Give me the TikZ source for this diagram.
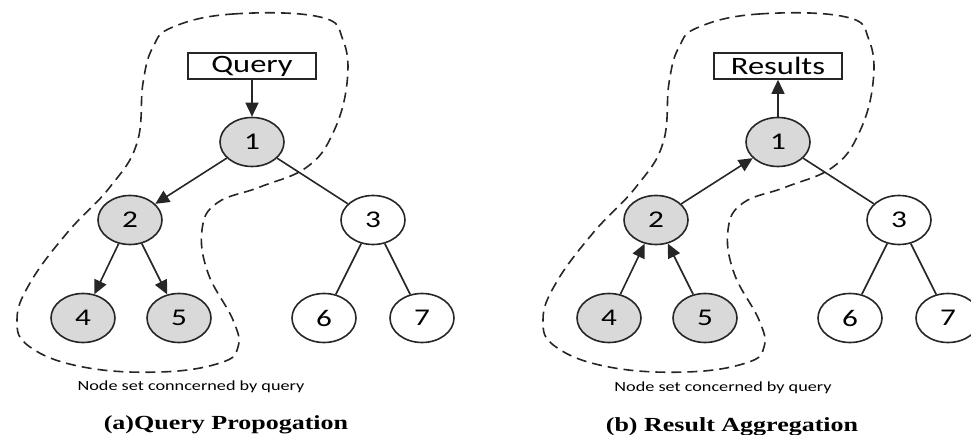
\documentclass[tikz,border=0pt]{standalone}
\usepackage{fontspec}
\setmainfont{Carlito}
\newfontfamily\capfont{Liberation Serif}
\usepackage{graphicx}
\usepackage{xcolor}
\definecolor{TreeGray}{HTML}{D9D9D9}
\definecolor{TreeLine}{HTML}{262626}
\usetikzlibrary{arrows.meta,shapes.geometric}
\newcommand{\wide}[1]{\scalebox{1.3}[1]{#1}}

\begin{document}
\begin{tikzpicture}[
  x=1pt,y=-1pt,
  tnode/.style={ellipse,draw=TreeLine,line width=1.6pt,minimum width=64pt,minimum height=49pt,inner sep=0pt,font=\fontsize{24}{24}\selectfont},
  hit/.style={tnode,fill=TreeGray},
  tag/.style={draw=TreeLine,line width=1.6pt,minimum width=128pt,minimum height=26pt,inner sep=0pt,font=\fontsize{25}{25}\selectfont},
  flow/.style={line width=1.6pt,draw=TreeLine,-{Triangle[length=14pt,width=13pt]}},
  link/.style={line width=1.6pt,draw=TreeLine},
  setline/.style={dash pattern=on 10pt off 6pt,line width=1.6pt,draw=TreeLine},
  note/.style={font=\fontsize{14}{14}\selectfont},
  caption/.style={font=\capfont\bfseries\fontsize{20}{20}\selectfont}
]
  \clip (0,0) rectangle (971,435);
  % (a) query propagation
  \draw[setline] plot[smooth cycle,tension=0.7] coordinates {(173,27) (233,14) (320,17) (343,40) (347,83) (333,133) (307,167) (260,187) (217,203) (202,230) (208,273) (233,320) (238,347) (220,363) (160,372) (83,367) (30,347) (17,320) (30,283) (67,233) (110,187) (137,143) (143,83) (153,47)};
  \node[tag] (qtop) at (252,66) {\wide{Query}};
  \node[hit] (q1) at (252,142) {\wide{1}};
  \node[hit] (q2) at (130,220) {\wide{2}};
  \node[tnode] (q3) at (373,220) {\wide{3}};
  \node[hit] (q4) at (83,318) {\wide{4}};
  \node[hit] (q5) at (179,318) {\wide{5}};
  \node[tnode] (q6) at (324,318) {\wide{6}};
  \node[tnode] (q7) at (422,318) {\wide{7}};
  \draw[flow] (qtop) -- (q1);
  \draw[flow] (q1) -- (q2);
  \draw[flow] (q2) -- (q4);
  \draw[flow] (q2) -- (q5);
  \draw[link] (q1) -- (q3);
  \draw[link] (q3) -- (q6);
  \draw[link] (q3) -- (q7);
  \node[note] (qnote) at (191,387) {\wide{Node set conncerned by query}};
  \node[caption] (qcap) at (226,425) {\wide{(a)Query Propogation}};
  % (b) result aggregation
  \begin{scope}[xshift=526pt]
    \draw[setline] plot[smooth cycle,tension=0.7] coordinates {(173,27) (233,14) (320,17) (343,40) (347,83) (333,133) (307,167) (260,187) (217,203) (202,230) (208,273) (233,320) (238,347) (220,363) (160,372) (83,367) (30,347) (17,320) (30,283) (67,233) (110,187) (137,143) (143,83) (153,47)};
    \node[tag] (rtop) at (252,66) {\wide{Results}};
    \node[hit] (r1) at (252,142) {\wide{1}};
    \node[hit] (r2) at (130,220) {\wide{2}};
    \node[tnode] (r3) at (373,220) {\wide{3}};
    \node[hit] (r4) at (83,318) {\wide{4}};
    \node[hit] (r5) at (179,318) {\wide{5}};
    \node[tnode] (r6) at (324,318) {\wide{6}};
    \node[tnode] (r7) at (422,318) {\wide{7}};
    \draw[flow] (r1) -- (rtop);
    \draw[flow] (r2) -- (r1);
    \draw[flow] (r4) -- (r2);
    \draw[flow] (r5) -- (r2);
    \draw[link] (r1) -- (r3);
    \draw[link] (r3) -- (r6);
    \draw[link] (r3) -- (r7);
    \node[note] (rnote) at (197,388) {\wide{Node set concerned by query}};
    \node[caption] (rcap) at (206,427) {\wide{(b) Result Aggregation}};
  \end{scope}
\end{tikzpicture}
\end{document}
